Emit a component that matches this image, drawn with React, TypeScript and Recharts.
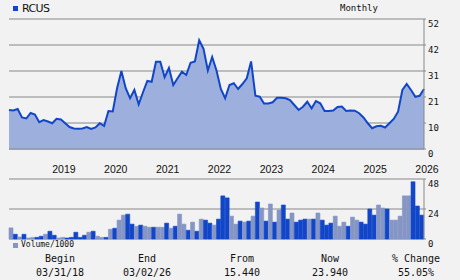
import React from "react";
import { AreaChart, Area, BarChart, Bar, Cell, XAxis, YAxis, CartesianGrid } from "recharts";

const symbol = "RCUS";
const period = "Monthly";
const volumeLabel = "Volume/1000";

// monthly closes, 03/2018 .. 03/2026
const prices = [
  15.6, 15.4, 16.0, 12.6, 12.2, 14.4, 13.8, 10.7, 11.6, 11.0,
  10.3, 12.1, 11.8, 10.3, 8.8, 8.2, 8.1, 8.2, 8.8, 8.0,
  8.6, 10.3, 9.2, 15.2, 15.0, 24.3, 31.2, 24.3, 20.3, 23.6,
  17.9, 22.7, 27.2, 26.9, 34.9, 34.9, 28.7, 32.4, 25.6, 28.3,
  30.9, 29.6, 34.5, 35.0, 43.5, 40.1, 31.4, 36.8, 31.4, 24.0,
  20.3, 25.6, 26.3, 24.0, 26.0, 28.3, 35.0, 21.3, 20.9, 18.2,
  18.2, 18.7, 20.5, 20.5, 20.3, 19.6, 17.6, 15.6, 16.9, 18.9,
  16.3, 19.2, 18.3, 15.2, 15.2, 15.4, 16.8, 17.0, 15.2, 15.4,
  15.3, 14.3, 12.6, 10.3, 8.3, 9.1, 9.3, 8.6, 10.3, 12.0,
  14.9, 23.6, 26.0, 23.6, 20.9, 21.3, 24.0,
];

const volumes = [
  8.9, 3.8, 1.6, 3.8, 0.8, 1.3, 1.3, 2.2, 3.8, 6.2,
  3.0, 0.8, 1.3, 0.8, 1.3, 5.4, 1.3, 3.0, 5.4, 6.2,
  2.2, 1.3, 1.3, 7.8, 8.6, 15.1, 19.1, 19.9, 11.9, 10.2,
  11.1, 10.2, 9.4, 9.4, 9.4, 9.4, 12.7, 8.6, 10.2, 19.9,
  11.9, 7.0, 13.5, 6.2, 15.9, 15.1, 12.7, 11.1, 15.9, 34.5,
  32.9, 18.3, 11.9, 14.3, 13.5, 14.3, 18.3, 29.6, 24.8, 14.3,
  28.0, 13.5, 23.2, 27.2, 15.9, 20.8, 13.5, 15.1, 15.9, 15.9,
  15.9, 20.8, 15.1, 11.1, 12.7, 18.3, 10.2, 13.5, 10.2, 17.5,
  15.1, 13.5, 11.9, 24.0, 19.1, 27.2, 24.8, 24.0, 15.1, 15.1,
  18.3, 34.5, 34.5, 45.8, 26.4, 19.1,
];

// 1 = dark (up) bar, 0 = light bar
const volumeUp = [
  0, 1, 0, 1, 0, 0, 1, 1, 0, 1,
  1, 0, 0, 1, 1, 1, 1, 1, 0, 1,
  0, 0, 1, 0, 1, 0, 0, 1, 1, 0,
  1, 0, 0, 1, 0, 0, 1, 0, 1, 0,
  0, 1, 0, 1, 0, 1, 1, 0, 1, 1,
  1, 0, 0, 1, 0, 1, 0, 1, 0, 1,
  0, 1, 0, 1, 1, 0, 1, 1, 1, 0,
  1, 0, 1, 1, 1, 0, 0, 0, 1, 0,
  0, 1, 1, 1, 1, 0, 0, 1, 0, 0,
  0, 0, 0, 1, 1, 1,
];

const priceTicks = [0, 10.4, 20.8, 31.2, 41.6, 52];
const volumeTicks = [0, 24, 48];
const yearTicks = [10, 22, 34, 46, 58, 70, 82, 94];
const yearLabels = ["2019", "2020", "2021", "2022", "2023", "2024", "2025", "2026"];

const summaryLabels = ["Begin", "End", "From", "Now", "% Change"];
const summaryValues = ["03/31/18", "03/02/26", "15.440", "23.940", "55.05%"];

const GRID = "#888888";
const DARK = "#1146c9";
const LIGHT = "#8596c4";
const MONO = "'DejaVu Sans Mono', monospace";

const axisTick = { fill: "#111", fontSize: 9, fontFamily: MONO, dy: 5 };

function YearTick(props: any) {
  const { x, payload } = props;
  const idx = yearTicks.indexOf(payload.value);
  return (
    <text x={x} y={173} textAnchor="start" fontSize={10.5} fontFamily="'Liberation Sans', Arial, sans-serif" fill="#111">
      {yearLabels[idx]}
    </text>
  );
}

export default function App() {
  const priceData = prices.map((p, i) => ({ i, price: p }));
  const volumeData = volumes.map((v, i) => ({ m: i, volume: v }));
  const colCenters = [60, 147, 242, 330, 416];

  return (
    <div style={{ position: "absolute", left: 0, top: 0, width: 460, height: 280, background: "#f2f2f2", overflow: "hidden" }}>
      <div style={{ position: "absolute", left: 0, top: 0 }}>
        <AreaChart width={460} height={180} data={priceData} margin={{ top: 19, right: 0, bottom: 0, left: 9 }}>
          <CartesianGrid yAxisId="p" vertical={false} stroke={GRID} />
          <XAxis
            dataKey="i"
            type="number"
            domain={[0, 96]}
            ticks={yearTicks}
            interval={0}
            height={31}
            tickLine={false}
            axisLine={{ stroke: GRID }}
            tick={<YearTick />}
          />
          <YAxis yAxisId="l" orientation="left" width={0} tick={false} tickLine={false} axisLine={{ stroke: GRID }} />
          <YAxis
            yAxisId="p"
            orientation="right"
            width={36}
            domain={[0, 52]}
            ticks={priceTicks}
            interval={0}
            tickFormatter={(v: number) => String(Math.round(v))}
            tick={axisTick}
            tickSize={2}
            tickMargin={2}
            axisLine={{ stroke: GRID }}
            tickLine={{ stroke: GRID }}
          />
          <Area
            yAxisId="p"
            type="linear"
            dataKey="price"
            stroke={DARK}
            strokeWidth={2}
            fill="#9db0dd"
            fillOpacity={1}
            dot={false}
            activeDot={false}
            isAnimationActive={false}
          />
        </AreaChart>
      </div>

      <div style={{ position: "absolute", left: 0, top: 170 }}>
        <BarChart width={460} height={86} data={volumeData} margin={{ top: 9, right: 0, bottom: 17, left: 9 }} barCategoryGap={0} barGap={0}>
          <CartesianGrid yAxisId="v" vertical={false} stroke={GRID} />
          <XAxis dataKey="m" hide />
          <YAxis yAxisId="l" orientation="left" width={0} tick={false} tickLine={false} axisLine={{ stroke: GRID }} />
          <YAxis
            yAxisId="v"
            orientation="right"
            width={36}
            domain={[0, 48]}
            ticks={volumeTicks}
            interval={0}
            tick={axisTick}
            tickSize={2}
            tickMargin={2}
            axisLine={{ stroke: GRID }}
            tickLine={{ stroke: GRID }}
          />
          <Bar yAxisId="v" dataKey="volume" isAnimationActive={false}>
            {volumeData.map((d, k) => (
              <Cell key={k} fill={volumeUp[k] ? DARK : LIGHT} stroke={volumeUp[k] ? DARK : LIGHT} strokeWidth={0.6} />
            ))}
          </Bar>
        </BarChart>
      </div>

      <div style={{ position: "absolute", left: 13, top: 6, width: 5, height: 5, background: DARK }} />
      <div style={{ position: "absolute", left: 22, top: 3, fontSize: 11, lineHeight: "11px", fontFamily: "'DejaVu Sans', sans-serif", letterSpacing: -0.6, color: "#111" }}>
        {symbol}
      </div>
      <div style={{ position: "absolute", left: 340, top: 4, fontSize: 9, lineHeight: "9px", fontFamily: MONO, color: "#111" }}>
        {period}
      </div>

      <div style={{ position: "absolute", left: 13, top: 243, width: 5, height: 5, background: LIGHT }} />
      <div style={{ position: "absolute", left: 21, top: 241, fontSize: 8, lineHeight: "8px", fontFamily: MONO, color: "#111" }}>
        {volumeLabel}
      </div>

      {summaryLabels.map((s, k) => (
        <div key={s} style={{ position: "absolute", left: colCenters[k] - 45, width: 90, top: 254, textAlign: "center", fontSize: 10, lineHeight: "10px", fontFamily: MONO, color: "#111" }}>
          {s}
        </div>
      ))}
      {summaryValues.map((s, k) => (
        <div key={s} style={{ position: "absolute", left: colCenters[k] - 45, width: 90, top: 268, textAlign: "center", fontSize: 10, lineHeight: "10px", fontFamily: MONO, color: "#111" }}>
          {s}
        </div>
      ))}
    </div>
  );
}
